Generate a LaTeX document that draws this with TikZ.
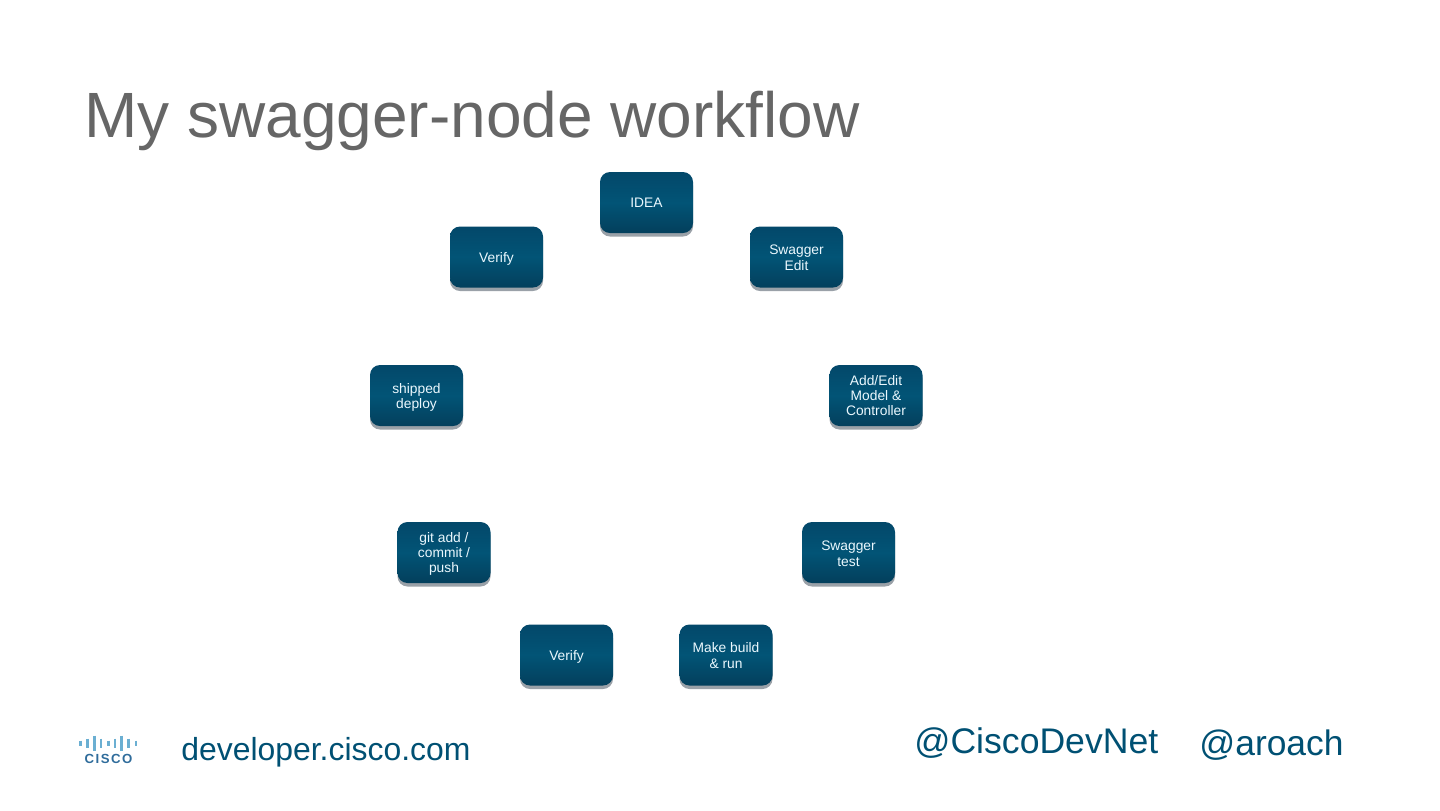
\documentclass[tikz,border=0pt]{standalone}
\usepackage{fontspec}
\setmainfont{Liberation Sans}
\usetikzlibrary{shadows}
\definecolor{titlegray}{HTML}{666666}
\definecolor{footblue}{HTML}{005073}
\definecolor{logoblue}{HTML}{6BAFD2}
\definecolor{logodark}{HTML}{2F6C9B}
\definecolor{boxtop}{HTML}{03486A}
\definecolor{boxmid}{HTML}{025476}
\definecolor{boxbot}{HTML}{033F5C}
\definecolor{shadowgray}{HTML}{9AA1A8}
\newcommand\dn[2]{\raisebox{-#1}[\height][\depth]{\begin{tabular}{@{}c@{}}#2\end{tabular}}}
\tikzset{
  stepbox/.style={minimum width=46.5pt,minimum height=30.5pt,inner sep=0pt,rounded corners=5pt,
    top color=boxtop,bottom color=boxbot,middle color=boxmid,text=white!92!cyan,
    font=\fontsize{6.9}{7.7}\selectfont,
    general shadow={shadow xshift=0pt,shadow yshift=-1.75pt,fill=shadowgray}},
  foot/.style={anchor=base west,inner sep=0pt,text=footblue},
  bar/.style={line width=1.25pt,draw=logoblue}
}
\begin{document}
\begin{tikzpicture}[x=0.5pt,y=-0.5pt]
\useasboundingbox (0,0) rectangle (1440,810);
\node[anchor=base west,inner sep=0pt,text=titlegray,font=\fontsize{32}{36}\selectfont] (title) at (84,137) {My swagger-node workflow};
\node[stepbox] (idea) at (646.5,202.5) {\dn{1pt}{IDEA}};
\node[stepbox] (swedit) at (796.5,257) {\dn{1.25pt}{Swagger\\Edit}};
\node[stepbox] (model) at (876,395.5) {\dn{1pt}{Add/Edit\\Model \&\\Controller}};
\node[stepbox] (swtest) at (848.5,552.5) {\dn{1.4pt}{Swagger\\test}};
\node[stepbox] (make) at (726,655) {\dn{1.25pt}{Make build\\\& run}};
\node[stepbox] (verifyb) at (566.5,655) {\dn{1pt}{Verify}};
\node[stepbox] (git) at (444,552.5) {\dn{1pt}{git add /\\commit /\\push}};
\node[stepbox] (ship) at (416.5,395.5) {\dn{1.25pt}{shipped\\deploy}};
\node[stepbox] (verifya) at (496.5,257) {\dn{1pt}{Verify}};
\node[foot,font=\fontsize{15.95}{20}\selectfont] (dev) at (181,760) {developer.cisco.com};
\node[foot,font=\fontsize{17.8}{20}\selectfont] (cdn) at (914,753) {@CiscoDevNet};
\node[foot,font=\fontsize{17.7}{20}\selectfont] (aroach) at (1199,755) {@aroach};
\foreach \x/\h in {80.7/2.5,87.3/4.5,94.3/7.5,101/4.5,108.3/2.5,115/4.5,121.7/7.5,128.7/4.5,136/2.5}
  \draw[bar] (\x,743-\h) -- (\x,743+\h);
\node[inner sep=0pt,text=logodark,font=\bfseries\fontsize{6.6}{8}\selectfont\addfontfeatures{LetterSpace=11}] (cisco) at (108.5,759) {CISCO};
\end{tikzpicture}
\end{document}
